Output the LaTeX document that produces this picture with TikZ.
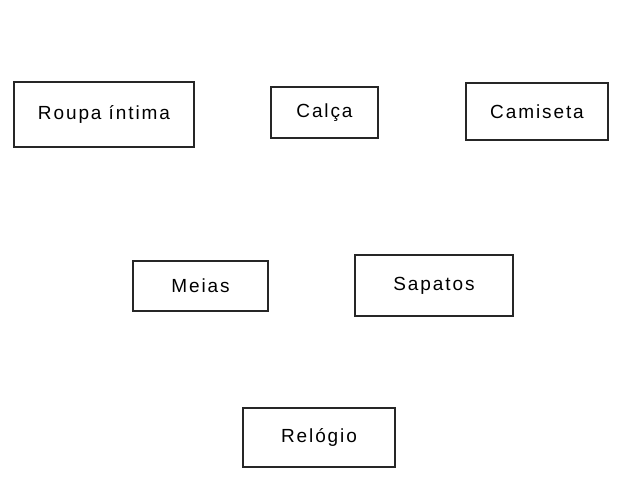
\documentclass[tikz,border=0pt]{standalone}
\usepackage{fontspec}
\setmainfont{Liberation Sans}[LetterSpace=10]
\begin{document}
\begin{tikzpicture}[x=1pt,y=-1pt,
  item/.style={draw=black!85, line width=1.1pt, rectangle, inner sep=0pt, font=\fontsize{19}{22}\selectfont, align=center}]
\useasboundingbox (0,0) rectangle (632,480);
\node[item, minimum width=180pt, minimum height=65pt] (roupa) at (104,114.5) {Roupa íntima};
\node[item, minimum width=107pt, minimum height=51pt] (calca) at (324.5,112.5) {Calça};
\node[item, minimum width=142pt, minimum height=57pt] (camiseta) at (537,111.5) {Camiseta};
\node[item, minimum width=135pt, minimum height=50pt] (meias) at (200.5,286) {Meias};
\node[item, minimum width=158pt, minimum height=61pt] (sapatos) at (434,285.5) {Sapatos};
\node[item, minimum width=152pt, minimum height=59pt] (relogio) at (319,437.5) {Relógio};
\end{tikzpicture}
\end{document}
